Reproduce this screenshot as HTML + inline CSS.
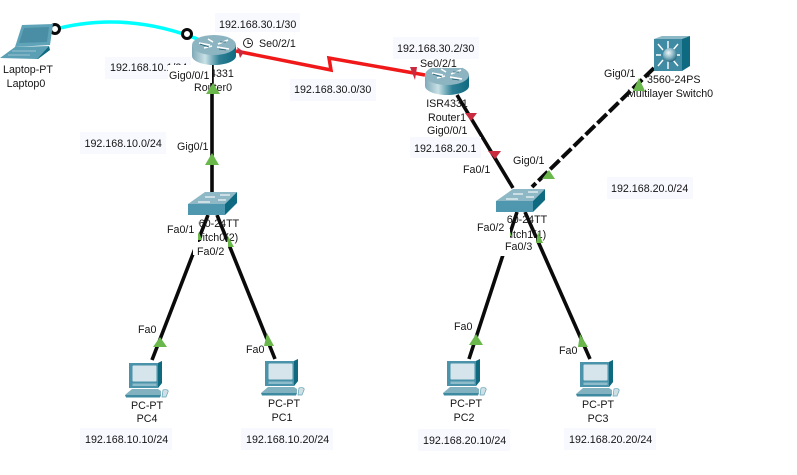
<!DOCTYPE html>
<html><head><meta charset="utf-8"><style>
html,body{margin:0;padding:0;background:#fff}
svg{display:block}
text{font-family:"Liberation Sans",Arial,sans-serif;font-size:10.7px;fill:#151515}
.m{text-anchor:middle}
.b{fill:#f8f9fe}
.w{fill:#fff}
.g{fill:#6ab84c}
.r{fill:#c92a3e}
</style></head><body>
<svg width="797" height="475" viewBox="0 0 797 475" xmlns="http://www.w3.org/2000/svg">
<defs>
<linearGradient id="rg" x1="0" x2="1" y1="0" y2="0"><stop offset="0" stop-color="#7fa9b8"/><stop offset=".3" stop-color="#c9e1e6"/><stop offset=".62" stop-color="#2f8095"/><stop offset="1" stop-color="#0e6a80"/></linearGradient>
<radialGradient id="sp" cx=".4" cy=".35" r=".7"><stop offset="0" stop-color="#eef6f8"/><stop offset=".55" stop-color="#7fb0c0"/><stop offset="1" stop-color="#1c5f75"/></radialGradient>
<g id="router">
<path d="M0 10V21C0 26 10 30 22 30S44 26 44 21V10Z" fill="url(#rg)"/>
<ellipse cx="22" cy="10" rx="22" ry="10" fill="#8db4c1"/>
<path d="M7 8L18 10M12 13L20 11M26 9L36 5M25 12L37 14M16 4L21 7" stroke="#fff" stroke-width="1.6" fill="none"/>
<path d="M8 9L17 12M28 7L34 7M27 14L34 15" stroke="#1f5d70" stroke-width=".8" fill="none"/>
</g>
<g id="switch">
<polygon points="0,12 17,0 49,0 37,12" fill="#8eb8c5"/>
<polygon points="0,12 37,12 37,23 0,23" fill="#4f97ae"/>
<polygon points="37,12 49,0 49,11 37,23" fill="#0e6a80"/>
<path d="M17 5H27M32 3H42M10 10H22M30 8H38" stroke="#eef5f7" stroke-width="1.2" fill="none"/>
</g>
<g id="pc">
<polygon points="4,2 33,2 37,0 37,22 33,27 4,27" fill="#4a93aa"/>
<polygon points="33,2 37,0 37,22 33,27" fill="#0f6a80"/>
<rect x="7.500" y="4.500" width="24" height="16" rx="1" fill="#d6e5eb"/>
<rect x="7.500" y="22.500" width="24" height="2.500" fill="#8fbccb"/>
<polygon points="7,28 33,28 36,30 36,34 0,34" fill="#82b1c0"/>
<polygon points="0,34 36,34 35,36.500 1,36.500" fill="#3d8aa1"/>
<path d="M38 29C41 28 44 29 43 31L41 36H37Z" fill="#cfe0e5" stroke="#5fa2b6" stroke-width=".7"/>
</g>
</defs>
<rect width="797" height="475" fill="#fff"/>

<!-- links -->
<path d="M52 30Q125 10 200 40" fill="none" stroke="#00ffff" stroke-width="3.500"/>
<polyline points="236,51 331,70 329,58 425,75" fill="none" stroke="#f01818" stroke-width="3.500"/>
<g stroke="#0a0a0a" stroke-width="3.600" fill="none">
<path d="M212 64V192"/>
<path d="M208 215L152 360"/>
<path d="M217 215L275 359"/>
<path d="M457 95L513 188"/>
<path d="M517 212L469 359"/>
<path d="M525 212L590 359"/>
<path d="M654 68L532 187" stroke-dasharray="13 3.500" stroke-width="4"/>
</g>
<circle cx="55" cy="29" r="4.500" fill="#fff" stroke="#0a0a0a" stroke-width="3"/>
<circle cx="187" cy="34" r="4.500" fill="#fff" stroke="#0a0a0a" stroke-width="3"/>

<!-- laptop -->
<polygon points="22,25 53,24 50,45 15,47" fill="#5fa3b8"/>
<polygon points="24,28 49,27 47,42 19,43" fill="#4a8ea5"/>
<polygon points="15,47 49,46 37,59 0,58" fill="#5a9fb4"/>
<polygon points="49,46 50,50 38,59 37,59" fill="#0e6a80"/>
<path d="M12 51H36M8 55H30" stroke="#9cc3cf" stroke-width="1"/>

<!-- routers -->
<use href="#router" x="192" y="35"/>
<use href="#router" x="425" y="65"/>

<!-- multilayer switch -->
<polygon points="654,39 682,39 690,36 662,36" fill="#8db8c5"/>
<polygon points="682,39 690,36 690,66 682,71" fill="#0e6a80"/>
<rect x="654" y="39" width="28" height="32" fill="#3f8ba3"/>
<g stroke="#fff" stroke-width="1.400"><path d="M668 41V50M668 60V69M656 55H661M675 55H680M658 44L663 50M678 44L673 50M658 66L663 60M678 66L673 60"/></g>
<circle cx="670" cy="55" r="7" fill="url(#sp)"/>

<!-- switches -->
<use href="#switch" x="188" y="192"/>
<use href="#switch" x="496" y="189"/>

<!-- PCs -->
<use href="#pc" x="125" y="361"/>
<use href="#pc" x="261" y="359"/>
<use href="#pc" x="443" y="359"/>
<use href="#pc" x="576" y="360"/>

<!-- clock -->
<circle cx="248" cy="43" r="4.500" fill="#fff" stroke="#222" stroke-width="1"/>
<path d="M248 40V43.500H251" fill="none" stroke="#222" stroke-width="1"/>

<!-- device labels -->
<text x="28" y="73" class="m">Laptop-PT</text>
<text x="26" y="87" class="m">Laptop0</text>
<text x="213" y="77" class="m">ISR4331</text>
<text x="213" y="91" class="m">Router0</text>
<text x="447" y="107" class="m">ISR4331</text>
<text x="447" y="121" class="m">Router1</text>
<text x="647" y="83">3560-24PS</text>
<text x="627" y="97">Multilayer Switch0</text>
<text x="213" y="227" class="m">2960-24TT</text>
<text x="213" y="241" class="m">Switch0(2)</text>
<text x="521" y="223" class="m">2960-24TT</text>
<text x="521" y="238" class="m">Switch1(1)</text>
<text x="147" y="409" class="m">PC-PT</text>
<text x="147" y="422" class="m">PC4</text>
<text x="284" y="407" class="m">PC-PT</text>
<text x="282" y="421" class="m">PC1</text>
<text x="466" y="407" class="m">PC-PT</text>
<text x="464" y="421" class="m">PC2</text>
<text x="598" y="408" class="m">PC-PT</text>
<text x="598" y="422" class="m">PC3</text>

<!-- link markers -->
<polygon class="r" points="237,47 244,52 240,58"/>
<polygon class="r" points="410,67 417,67 415,80"/>
<polygon class="r" points="465,113 477,113 471,121"/>
<polygon class="r" points="488,151 501,151 495,159"/>
<polygon class="g" points="213,83 220,94 206,94"/>
<polygon class="g" points="212,153 219,165 205,165"/>
<polygon class="g" points="639,78 645,91 633,91"/>
<polygon class="g" points="549,170 555,179 542,179"/>
<polygon class="g" points="160,337 167,347 153,347"/>
<polygon class="g" points="267,333 274,346 264,346"/>
<polygon class="g" points="476,334 483,345 469,345"/>
<polygon class="g" points="580,334 588,347 578,347"/>
<polygon class="g" points="228,236 234,247 226,247"/>
<polygon class="g" points="199,232 202,240 195,240"/>
<polygon class="g" points="538,232 543,243 536,243"/>
<polygon class="g" points="509,229 512,236 505,236"/>

<!-- boxed labels -->
<rect class="b" x="215" y="13" width="85" height="19"/>
<text x="219" y="28">192.168.30.1/30</text>
<text x="259" y="47">Se0/2/1</text>
<rect class="b" x="105" y="57" width="86" height="22"/>
<text x="110" y="71">192.168.10.1/24</text>
<rect class="w" x="168" y="65" width="44" height="18"/>
<text x="169" y="79">Gig0/0/1</text>
<text x="177" y="150">Gig0/1</text>
<rect class="b" x="80" y="132" width="86" height="22"/>
<text x="84.500" y="147">192.168.10.0/24</text>
<rect class="b" x="290" y="79" width="86" height="22"/>
<text x="294" y="93">192.168.30.0/30</text>
<rect class="w" x="418" y="58" width="44" height="10"/>
<rect class="b" x="393" y="37" width="86" height="22"/>
<text x="397" y="52">192.168.30.2/30</text>
<text x="420" y="67">Se0/2/1</text>
<rect class="w" x="426" y="122" width="42" height="15"/>
<text x="427" y="134">Gig0/0/1</text>
<rect class="b" x="410" y="137" width="71" height="21"/>
<text x="414" y="152">192.168.20.1</text>
<text x="463" y="173">Fa0/1</text>
<text x="513" y="164">Gig0/1</text>
<text x="604" y="77">Gig0/1</text>
<rect class="b" x="607" y="177" width="86" height="22"/>
<text x="611" y="192">192.168.20.0/24</text>

<rect class="w" x="166" y="216" width="32" height="27"/>
<text x="167" y="233">Fa0/1</text>
<rect class="w" x="193" y="242" width="35" height="13"/>
<rect class="w" x="195" y="255" width="33" height="7"/>
<text x="197" y="255">Fa0/2</text>
<rect class="w" x="476" y="213" width="31.500" height="16"/>
<rect class="w" x="476" y="229" width="34" height="9"/>
<text x="477" y="231">Fa0/2</text>
<rect class="w" x="500" y="238" width="36" height="18"/>
<text x="505" y="250">Fa0/3</text>

<text x="138" y="333">Fa0</text>
<text x="246" y="353">Fa0</text>
<text x="454" y="330">Fa0</text>
<text x="559" y="354">Fa0</text>

<rect class="b" x="80" y="428" width="92" height="22"/>
<text x="85" y="443">192.168.10.10/24</text>
<rect class="b" x="241" y="428" width="92" height="22"/>
<text x="246" y="443">192.168.10.20/24</text>
<rect class="b" x="418" y="429" width="92" height="22"/>
<text x="423" y="444">192.168.20.10/24</text>
<rect class="b" x="564" y="428" width="92" height="22"/>
<text x="569" y="443">192.168.20.20/24</text>
</svg>
</body></html>
